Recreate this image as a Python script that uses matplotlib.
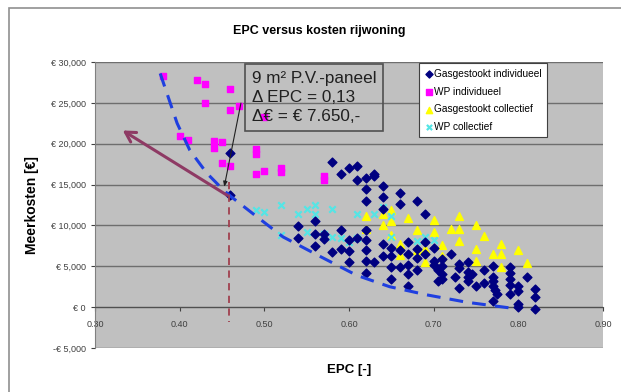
import numpy as np
import matplotlib.pyplot as plt
from matplotlib.patches import Rectangle
from matplotlib.ticker import FuncFormatter

plt.rcParams['font.family'] = ['Liberation Sans', 'DejaVu Sans']

# Gasgestookt individueel
gas_ind_x = [0.46, 0.46, 0.58, 0.59, 0.60, 0.61, 0.61, 0.62, 0.63, 0.63, 0.62, 0.62,
             0.64, 0.64, 0.64, 0.66, 0.66, 0.68, 0.69,
             0.54, 0.54, 0.56, 0.56, 0.56, 0.57, 0.57, 0.59, 0.58, 0.59, 0.60, 0.60, 0.60,
             0.61, 0.62, 0.62, 0.62, 0.62, 0.62, 0.63, 0.64, 0.64, 0.65, 0.65, 0.65, 0.65,
             0.66, 0.66, 0.67, 0.67, 0.67, 0.67, 0.67, 0.68, 0.68, 0.68, 0.69, 0.69,
             0.70, 0.70, 0.70, 0.705, 0.71, 0.71, 0.71, 0.705, 0.71, 0.72, 0.725,
             0.73, 0.73, 0.73, 0.74, 0.74, 0.74, 0.745, 0.74, 0.75, 0.76, 0.76,
             0.77, 0.77, 0.77, 0.77, 0.772, 0.775, 0.77, 0.79, 0.79, 0.79, 0.79, 0.79,
             0.80, 0.80, 0.80, 0.80, 0.81, 0.82, 0.82, 0.82]
gas_ind_y = [18900, 13700, 17750, 16250, 17000, 17250, 15500, 15850, 16000, 16300, 14500, 13050,
             14800, 13450, 12050, 13950, 12650, 13050, 11450,
             9900, 8500, 10500, 9000, 7450, 9000, 8300, 9450, 6750, 7150, 8250, 6850, 5500,
             8500, 8250, 7000, 5650, 4150, 9400, 5500, 7750, 6200, 7250, 6200, 4900, 3450,
             6950, 4900, 7950, 6450, 5200, 4000, 2550, 7150, 6000, 4550, 7950, 6550,
             7250, 5650, 5100, 4550, 5900, 5000, 4100, 3150, 3450, 6450, 3750,
             5300, 4800, 2350, 5500, 4300, 3750, 4100, 3200, 2600, 4600, 2950,
             5000, 3650, 3150, 2550, 2050, 1550, 800, 4900, 4150, 3450, 2650, 1550,
             2550, 1950, 350, 0, 3750, 2250, 1200, -200]

# WP individueel
wp_ind_x = [0.38, 0.42, 0.43, 0.43, 0.46, 0.46, 0.47, 0.50, 0.40, 0.41, 0.44, 0.44,
            0.45, 0.45, 0.46, 0.49, 0.49, 0.49, 0.50, 0.52, 0.52, 0.57, 0.57]
wp_ind_y = [28300, 27800, 27300, 25000, 26700, 24100, 24600, 23300, 21000, 20500, 20300, 19500,
            20200, 17600, 17300, 19400, 18700, 16300, 16600, 17000, 16500, 16100, 15500]

# Gasgestookt collectief
gas_col_x = [0.62, 0.62, 0.64, 0.64, 0.65, 0.65, 0.65, 0.66, 0.66, 0.67, 0.68, 0.68,
             0.69, 0.69, 0.70, 0.70, 0.71, 0.71, 0.72, 0.73, 0.73, 0.73, 0.75, 0.75,
             0.75, 0.76, 0.77, 0.78, 0.78, 0.78, 0.80, 0.81]
gas_col_y = [11200, 9600, 11400, 10100, 11900, 10500, 8800, 7750, 6350, 10950, 9400, 7000,
             7150, 5500, 10700, 9200, 7550, 6200, 9600, 11200, 9600, 8150, 10100, 7150,
             5650, 8650, 6450, 7750, 6450, 4900, 6950, 5450]

# WP collectief
wp_col_x = [0.49, 0.50, 0.52, 0.54, 0.55, 0.56, 0.56, 0.58, 0.52, 0.55, 0.57, 0.58,
            0.59, 0.60, 0.61, 0.61, 0.63, 0.64, 0.65, 0.65, 0.69, 0.70, 0.68]
wp_col_y = [11850, 11650, 12550, 11450, 12050, 12450, 11450, 11950, 8800, 9200, 9000, 8550,
            8500, 7950, 8500, 11450, 11450, 12250, 11200, 8550, 8550, 8250, 8150]

# blauwe stippellijn (ondergrens)
curve_x = [0.367, 0.377, 0.397, 0.412, 0.432, 0.452, 0.461, 0.487, 0.522, 0.566,
           0.609, 0.648, 0.692, 0.739, 0.794]
curve_y = [30700, 28600, 22500, 19200, 16400, 14300, 13500, 11400, 8600, 6200,
           3900, 2500, 1500, 600, -150]

fig = plt.figure(figsize=(6.21, 3.92), dpi=100)
ax = fig.add_axes([95/621, 1-348/392, 508/621, 286/392])
ax.set_facecolor('#C0C0C0')
ax.set_xlim(0.30, 0.90)
ax.set_ylim(-5000, 30000)
ax.set_yticks(np.arange(-5000, 30001, 5000))
ax.set_xticks(np.arange(0.30, 0.901, 0.10))
ax.yaxis.grid(True, color='#6e6e6e', lw=1)
ax.set_axisbelow(True)

def euro(v, pos):
    s = '€ {:,.0f}'.format(abs(v))
    return '-' + s if v < 0 else s

ax.yaxis.set_major_formatter(FuncFormatter(euro))
ax.xaxis.set_major_formatter(FuncFormatter(lambda v, p: '{:.2f}'.format(v)))
for s in ['top', 'right']:
    ax.spines[s].set_visible(False)
ax.spines['left'].set_color('#808080')
ax.spines['bottom'].set_position(('data', 0))
ax.spines['bottom'].set_color('#505050')
ax.tick_params(axis='both', labelsize=6.5, colors='#404040', length=3, width=0.8)
ax.tick_params(axis='x', pad=6)

ax.scatter(gas_ind_x, gas_ind_y, marker='D', s=20, color='#000080', zorder=4,
           label='Gasgestookt individueel')
ax.scatter(wp_ind_x, wp_ind_y, marker='s', s=24, color='#FF00FF', zorder=3,
           label='WP individueel')
ax.scatter(gas_col_x, gas_col_y, marker='^', s=32, color='#FFFF00', zorder=3,
           label='Gasgestookt collectief')
ax.scatter(wp_col_x, wp_col_y, marker='x', s=22, color='#55E5E5', linewidths=1.6, zorder=3,
           label='WP collectief')

ax.plot(curve_x[1:], curve_y[1:], color='#1F3FE0', lw=2.2, ls=(0, (4.5, 3)), zorder=5)
ax.annotate('', xy=(curve_x[0], curve_y[0]), xytext=(curve_x[1], curve_y[1]),
            arrowprops=dict(arrowstyle='-|>,head_length=0.6,head_width=0.35',
                            color='#1F3FE0', lw=2.2), zorder=5)

ax.plot([0.458, 0.458], [15300, -1800], color='#A0404F', lw=1.3, ls=(0, (4, 3)),
        zorder=5, clip_on=False)
ax.annotate('', xy=(0.330, 21800), xytext=(0.459, 13500),
            arrowprops=dict(arrowstyle='->,head_length=0.7,head_width=0.4',
                            color='#8E3A64', lw=2.2), zorder=6)
ax.annotate('', xy=(0.452, 14400), xytext=(0.473, 25300),
            arrowprops=dict(arrowstyle='-|>,head_length=0.3,head_width=0.12',
                            color='#202020', lw=0.8), zorder=6)

ax.text(0.485, 28900, '9 m² P.V.-paneel\nΔ EPC = 0,13\nΔ€ = € 7.650,-',
        fontsize=12.3, va='top', ha='left', color='#202020', linespacing=1.35,
        bbox=dict(boxstyle='square,pad=0.4', fc='none', ec='#505050', lw=1.2), zorder=6)

leg = ax.legend(loc='upper left', bbox_to_anchor=(0.638, 0.995), fontsize=7.3,
                frameon=True, fancybox=False, edgecolor='#404040', framealpha=1,
                handletextpad=0.1, handlelength=0.8, borderpad=0.55, labelspacing=0.75,
                borderaxespad=0, markerscale=0.8)
leg.get_frame().set_linewidth(0.8)

fig.text(319/621, 1-31/392, 'EPC versus kosten rijwoning', ha='center', va='center',
         fontsize=9, fontweight='bold')
fig.text(32/621, 1-205/392, 'Meerkosten [€]', ha='center', va='center',
         rotation=90, fontsize=10, fontweight='bold')
fig.text(349/621, 1-370/392, 'EPC [-]', ha='center', va='center',
         fontsize=9.5, fontweight='bold')

fig.patches.append(Rectangle((9/621, -0.1), 1.2, 1 - 8/392 + 0.1, transform=fig.transFigure,
                             fill=False, ec='#909090', lw=1.2))

plt.savefig('out.png', dpi=100)
